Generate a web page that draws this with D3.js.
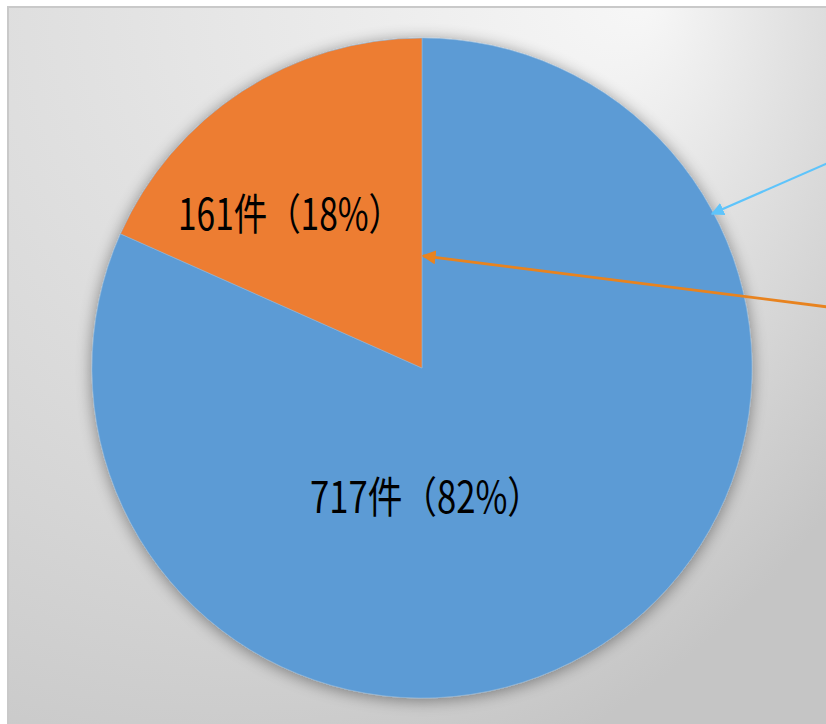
<!DOCTYPE html>
<html><head><meta charset="utf-8">
<script src="https://cdn.jsdelivr.net/npm/d3@7"></script>
<style>html,body{margin:0;padding:0;overflow:hidden;background:#fff}</style>
</head><body>
<script>
const categories = ["A", "B"];
const counts = [717, 161];
const percents = ["82%", "18%"];
const colors = ["#5b9bd5", "#ed7d31"];
// annotation arrows: angle (deg from top, clockwise) and radius fraction of tip
const arrowColors = ["#5ec4fb", "#e8831f"];
const arrowTipAngle = [62, 0.5];
const arrowTipRadius = [0.995, 0.34];
const arrowStartY = [163, 307];

const W = 826, H = 724;
const svg = d3.select("body").append("svg").attr("width", W).attr("height", H);
const defs = svg.append("defs");
const g1 = defs.append("radialGradient").attr("id","bg").attr("gradientUnits","userSpaceOnUse")
  .attr("cx", 150).attr("cy", 0).attr("r", 850).attr("fx", 650).attr("fy", 0);
g1.append("stop").attr("offset","0%").attr("stop-color","#f7f7f7");
g1.append("stop").attr("offset","40%").attr("stop-color","#e2e2e2");
g1.append("stop").attr("offset","100%").attr("stop-color","#c5c5c5");
const f = defs.append("filter").attr("id","sh").attr("x","-20%").attr("y","-20%").attr("width","140%").attr("height","140%");
f.append("feGaussianBlur").attr("in","SourceAlpha").attr("stdDeviation",8).attr("result","b");
f.append("feOffset").attr("in","b").attr("dx",0).attr("dy",2).attr("result","o");
f.append("feComponentTransfer").attr("in","o").attr("result","o2")
  .append("feFuncA").attr("type","linear").attr("slope",0.42);
const fm = f.append("feMerge");
fm.append("feMergeNode").attr("in","o2");
fm.append("feMergeNode").attr("in","SourceGraphic");

svg.append("rect").attr("x",8).attr("y",7).attr("width",W).attr("height",H)
  .attr("fill","url(#bg)").attr("stroke","#c9c9c9").attr("stroke-width",2);

const cx = 422, cy = 368, r = 330;
const data = categories.map((c,i)=>({c, v: counts[i], p: percents[i], col: colors[i]}));
const pie = d3.pie().value(d=>d.v).sort(null);
const arcs = pie(data);
const arc = d3.arc().innerRadius(0).outerRadius(r);
const gp = svg.append("g").attr("transform",`translate(${cx},${cy})`);
gp.append("g").attr("filter","url(#sh)").selectAll("path").data(arcs).join("path")
  .attr("d", arc).attr("fill", d=>d.data.col)
  .attr("stroke", "#8fb8df").attr("stroke-width", 0.6);

// labels
const labelPos = [[4, 145], [-132, -138]];
gp.selectAll("text.lbl").data(arcs).join("text").attr("class","lbl")
  .attr("x",(d,i)=>labelPos[i][0]).attr("y",(d,i)=>labelPos[i][1])
  .attr("text-anchor","middle")
  .attr("font-family","'Noto Sans CJK JP', sans-serif")
  .attr("font-size",43).attr("fill","#000")
  .attr("textLength",(d,i)=> i===0 ? 232 : 224).attr("lengthAdjust","spacingAndGlyphs")
  .text(d=>`${d.data.v}件（${d.data.p}）`);

// arrows
arrowColors.forEach((col,i)=>{
  defs.append("marker").attr("id","m"+i).attr("viewBox","0 0 10 10").attr("refX",9).attr("refY",5)
    .attr("markerWidth", i===0?6:5).attr("markerHeight", i===0?6:5).attr("markerUnits","strokeWidth").attr("orient","auto")
    .append("path").attr("d","M0,0 L10,5 L0,10 z").attr("fill",col);
  const a = arrowTipAngle[i]*Math.PI/180;
  const tx = cx + Math.sin(a)*r*arrowTipRadius[i];
  const ty = cy - Math.cos(a)*r*arrowTipRadius[i];
  svg.append("line").attr("x1", W+2).attr("y1", arrowStartY[i]).attr("x2", tx).attr("y2", ty)
    .attr("stroke", col).attr("stroke-width", i===0?2.2:2.8).attr("marker-end","url(#m"+i+")");
});
</script>
</body></html>
